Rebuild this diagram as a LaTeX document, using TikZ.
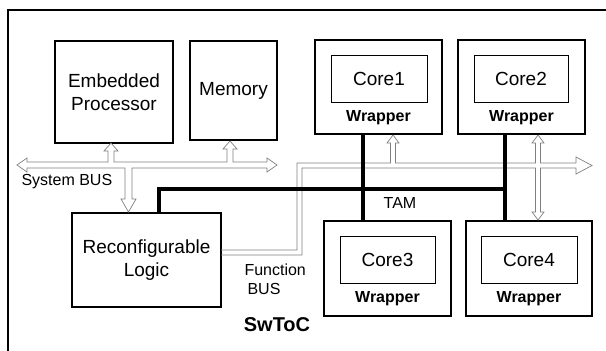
\documentclass[tikz,border=0pt]{standalone}
\usepackage{fontspec}
\setmainfont{Liberation Sans}
\begin{document}
\begin{tikzpicture}[x=1pt,y=-1pt,
  box/.style={draw,line width=1.1pt,inner sep=0pt,align=center},
  corebox/.style={draw,line width=0.9pt,inner sep=0pt},
  lbl/.style={font=\fontsize{19}{23.5}\selectfont},
  wrap/.style={font=\fontsize{16}{18}\selectfont\bfseries},
  small/.style={font=\fontsize{16}{19}\selectfont},
  bus/.style={draw=black!50,line width=0.7pt,line join=miter},
  tam/.style={line width=3.5pt}
]
\useasboundingbox (0,0) rectangle (606,351);
% outer frame (left and top edges)
\draw[line width=1.2pt] (8,360) -- (8,10) -- (615,10);

% processor, memory, reconfigurable logic
\node[box,lbl,minimum width=118pt,minimum height=102pt] (ep) at (114,92) {Embedded\\Processor};
\node[box,lbl,minimum width=87pt,minimum height=99pt] (mem) at (233.5,90.5) {Memory};
\node[box,lbl,minimum width=149pt,minimum height=94pt] (rl) at (146.5,260) {Reconfigurable\\Logic};

% wrapped cores
\node[box,minimum width=127pt,minimum height=94pt] (w1) at (378.5,87) {};
\node[corebox,lbl,minimum width=96pt,minimum height=47pt] (c1) at (379,78.5) {Core1};
\node[wrap] (l1) at (378.5,118) {Wrapper};

\node[box,minimum width=127pt,minimum height=94pt] (w2) at (521.5,87) {};
\node[corebox,lbl,minimum width=94pt,minimum height=47pt] (c2) at (521,78.5) {Core2};
\node[wrap] (l2) at (521.5,118) {Wrapper};

\node[box,minimum width=127pt,minimum height=95pt] (w3) at (387.5,268.5) {};
\node[corebox,lbl,minimum width=95pt,minimum height=47pt] (c3) at (387.5,259.5) {Core3};
\node[wrap] (l3) at (387.5,299) {Wrapper};

\node[box,minimum width=126pt,minimum height=95pt] (w4) at (529,268.5) {};
\node[corebox,lbl,minimum width=96pt,minimum height=47pt] (c4) at (529,259.5) {Core4};
\node[wrap] (l4) at (529,299) {Wrapper};

% system bus (hollow outline)
\draw[bus] (17,165) -- (27,158) -- (27,162) -- (108,162) -- (108,151) -- (104,151)
  -- (111,143) -- (118,151) -- (114,151) -- (114,162) -- (227,162) -- (227,149)
  -- (223,149) -- (230,141) -- (237,149) -- (233,149) -- (233,162) -- (267,162)
  -- (267,158) -- (277,165) -- (267,172) -- (267,168) -- (132,168) -- (132,199)
  -- (136,199) -- (128.5,212) -- (121,199) -- (125,199) -- (125,168) -- (27,168)
  -- (27,172) -- cycle;

% function bus (hollow outline)
\draw[bus] (221,250) -- (297,250) -- (297,163) -- (390.5,163) -- (390.5,143)
  -- (387,143) -- (393,135) -- (399,143) -- (395.5,143) -- (395.5,163)
  -- (535.5,163) -- (535.5,143) -- (532,143) -- (538,135) -- (544,143)
  -- (540.5,143) -- (540.5,163) -- (576,163) -- (576,157) -- (592,165.5)
  -- (576,174) -- (576,168) -- (540.5,168) -- (540.5,212) -- (544,212)
  -- (538,220) -- (532,212) -- (535.5,212) -- (535.5,168) -- (302,168)
  -- (302,255) -- (221,255);

% test access mechanism
\coordinate (tl) at (159,189);
\coordinate (ta) at (363,189);
\coordinate (tr) at (505,189);
\draw[tam] (tl |- rl.north) -- (tl) -- (tr);
\draw[tam] (ta |- w1.south) -- (ta |- w3.north);
\draw[tam] (tr |- w2.south) -- (tr |- w4.north);

% labels
\node[small,anchor=west] (sb) at (18,182) {System BUS};
\node[small,anchor=west] (fb1) at (241,270) {Function};
\node[small,anchor=west] (fb2) at (244,289) {BUS};
\node[small] (tam) at (400,203) {TAM};
\node[font=\fontsize{20}{24}\selectfont\bfseries] (soc) at (277,325) {SwToC};
\end{tikzpicture}
\end{document}
